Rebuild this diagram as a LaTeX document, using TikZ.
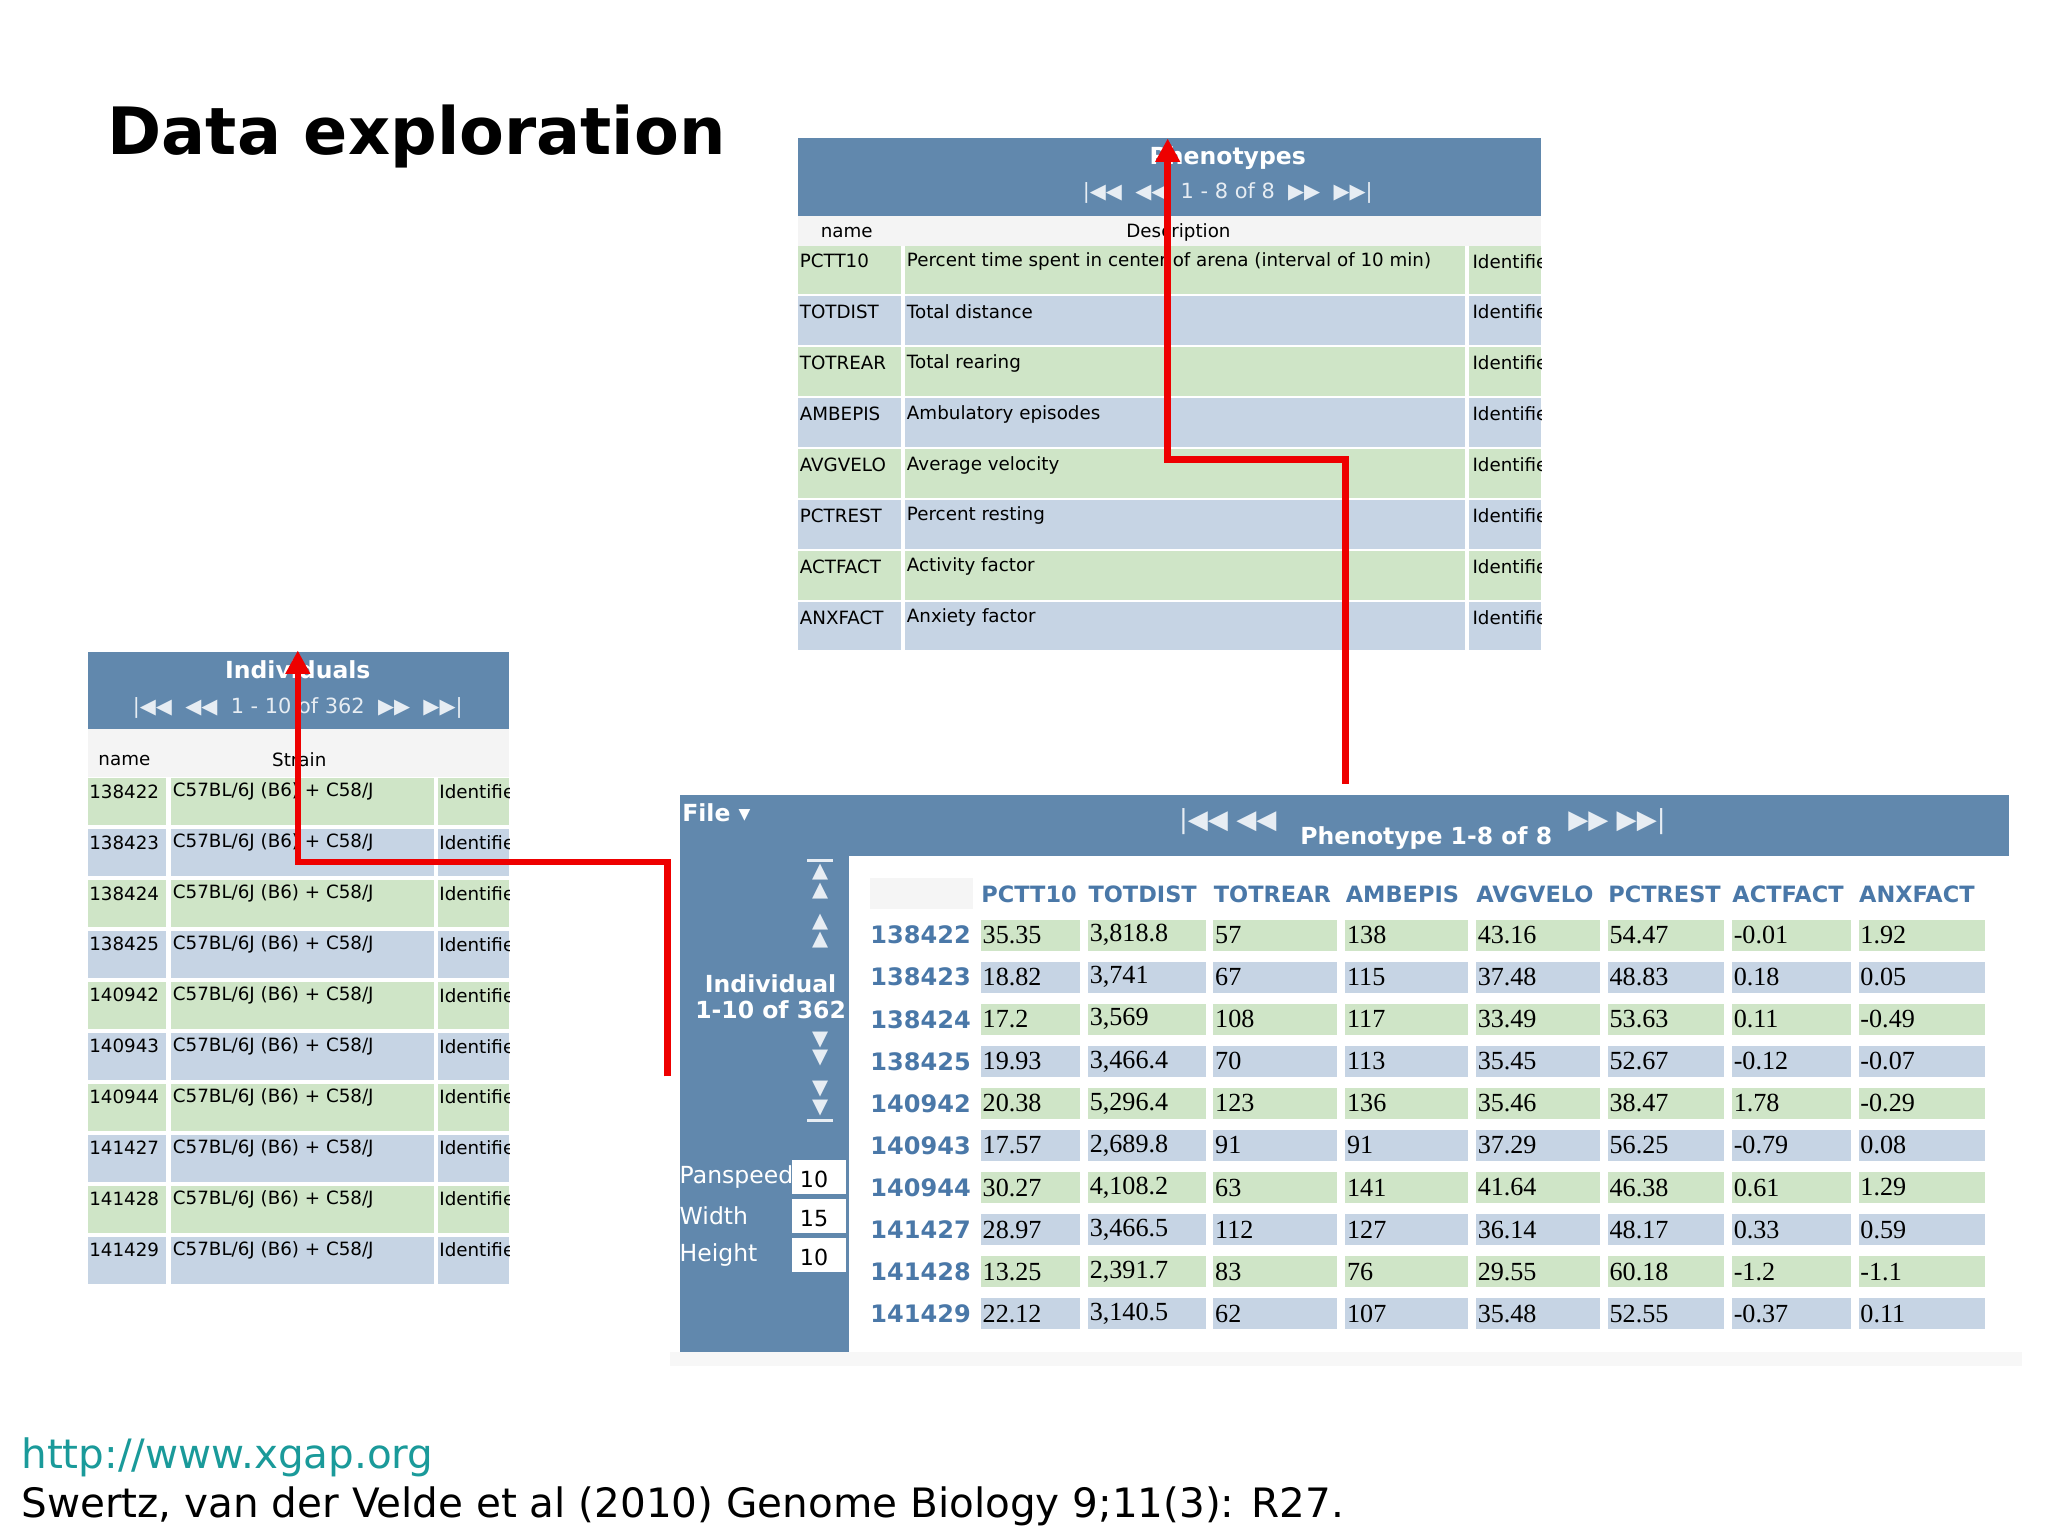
\documentclass[tikz,border=0pt]{standalone}
\usepackage{fontspec}
\setmainfont{DejaVu Sans}
\newfontfamily\serifv{Liberation Serif}
\usetikzlibrary{arrows.meta}
\definecolor{hdr}{HTML}{6188AD}
\definecolor{gr}{HTML}{CFE5C7}
\definecolor{bl}{HTML}{C6D4E4}
\definecolor{idb}{HTML}{4A78A8}
\definecolor{teal}{HTML}{1A9A9A}
\definecolor{redl}{HTML}{EE0000}
\definecolor{chdr}{HTML}{F4F4F4}
\tikzset{
 sm/.style={font=\fontsize{7}{8}\selectfont,inner sep=0,anchor=west},
 nav/.style={font=\fontsize{8}{9}\selectfont,text=white!85!hdr,inner sep=0},
 hd/.style={font=\bfseries\fontsize{9}{10}\selectfont,text=white,inner sep=0},
 val/.style={font=\serifv\fontsize{10}{11}\selectfont,inner sep=0,anchor=west},
 cl/.style={font=\bfseries\fontsize{8.6}{10}\selectfont,text=idb,inner sep=0,anchor=west},
 redarrow/.style={draw=redl,line width=2.5pt,-{Triangle[length=9pt,width=9pt]}},
}
\begin{document}
\begin{tikzpicture}[x=0.5pt,y=-0.5pt]
\useasboundingbox[fill=white] (0,0) rectangle (1568,1176);
\node[anchor=base west,inner sep=0,font=\bfseries\fontsize{25}{30}\selectfont] (title) at (82,118) {Data exploration};
% ---------- Phenotypes panel
\fill[hdr] (611,106) rectangle (1180,165);
\fill[chdr] (611,165) rectangle (1180,188);
\node[hd] (ph) at (940,121) {Phenotypes};
\node[nav] (phn) at (940,148) {|◀◀\ \ ◀◀\ \ 1 - 8 of 8\ \ ▶▶\ \ ▶▶|};
\node[sm] (phc1) at (628,178) {name};
\node[sm] (phc2) at (862,178) {Description};
\foreach \n/\d [count=\i] in {PCTT10/Percent time spent in center of arena (interval of 10 min),TOTDIST/Total distance,TOTREAR/Total rearing,AMBEPIS/Ambulatory episodes,AVGVELO/Average velocity,PCTREST/Percent resting,ACTFACT/Activity factor,ANXFACT/Anxiety factor}{
 \pgfmathsetmacro{\y}{188+(\i-1)*39}
 \pgfmathtruncatemacro{\odd}{mod(\i,2)}
 \ifnum\odd=1 \def\c{gr}\else\def\c{bl}\fi
 \fill[\c] (611,\y) rectangle (690,\y+37);
 \fill[\c] (693,\y) rectangle (1122,\y+37);
 \fill[\c] (1125,\y) rectangle (1180,\y+37);
 \node[sm] (pn\i) at (612,\y+12) {\n};
 \node[sm] (pd\i) at (694,\y+12) {\d};
 \begin{scope}\clip (1125,\y) rectangle (1180,\y+37);
 \node[sm] (pi\i) at (1127,\y+12) {Identifier};\end{scope}
}
% ---------- Individuals panel
\fill[hdr] (67,499) rectangle (390,558);
\fill[chdr] (67,558) rectangle (390,595);
\node[hd] (ih) at (228,513) {Individuals};
\node[nav] (ihn) at (228,542) {|◀◀\ \ ◀◀\ \ 1 - 10 of 362\ \ ▶▶\ \ ▶▶|};
\node[sm] (ic1) at (75,582) {name};
\node[sm] (ic2) at (208,582) {Strain};
\foreach \n [count=\i] in {138422,138423,138424,138425,140942,140943,140944,141427,141428,141429}{
 \pgfmathsetmacro{\y}{596+(\i-1)*39}
 \pgfmathtruncatemacro{\odd}{mod(\i,2)}
 \ifnum\odd=1 \def\c{gr}\else\def\c{bl}\fi
 \fill[\c] (67,\y) rectangle (127,\y+36);
 \fill[\c] (131,\y) rectangle (332,\y+36);
 \fill[\c] (335,\y) rectangle (390,\y+36);
 \node[sm] (in\i) at (68,\y+10) {\n};
 \node[sm] (is\i) at (132,\y+10) {C57BL/6J (B6) + C58/J};
 \begin{scope}\clip (335,\y) rectangle (390,\y+36);
 \node[sm] (ii\i) at (336,\y+10) {Identifier};\end{scope}
}
% ---------- Main panel
\fill[black!3] (513,1035) rectangle (1548,1046);
\fill[hdr] (521,609) rectangle (1538,655);
\fill[hdr] (521,655) rectangle (650,1035);
\node[hd,anchor=west] (file) at (522,622) {File ▾};
\node[nav,font=\fontsize{10}{10}\selectfont] (mn1) at (940,629) {|◀◀\ ◀◀};
\node[nav,font=\fontsize{10}{10}\selectfont] (mn2) at (1238,629) {▶▶\ ▶▶|};
\node[hd] (mh) at (1092,642) {Phenotype 1-8 of 8};
\node[hd,align=center] (ind) at (590,763) {Individual\\1-10 of 362};
\foreach \yy/\s in {668/▲,682/▲,706/▲,720/▲,796/▼,810/▼,834/▼,848/▼}{
 \node[text=white!85!hdr,font=\fontsize{8}{8}\selectfont,inner sep=0] at (628,\yy) {\s};}
\draw[white!85!hdr,line width=1pt] (618,659)--(638,659) (618,858)--(638,858);
\foreach \l/\v/\yy in {Panspeed/10/901,Width/15/931,Height/10/961}{
 \node[font=\fontsize{9}{10}\selectfont,text=white,inner sep=0,anchor=west] at (520,\yy) {\l};
 \fill[white] (606,\yy-13) rectangle (648,\yy+13);
 \node[font=\fontsize{8.5}{9}\selectfont,inner sep=0,anchor=west] at (612,\yy+2) {\v};}
\fill[black!4] (666,672) rectangle (745,696);
\foreach \h/\x in {PCTT10/751,TOTDIST/833,TOTREAR/929,AMBEPIS/1030,AVGVELO/1130,PCTREST/1231,ACTFACT/1326,ANXFACT/1423}{
 \node[cl] at (\x,685) {\h};}
\foreach \id/\a/\b/\c/\d/\e/\f/\g/\h [count=\i] in {
138422/35.35/{3,818.8}/57/138/43.16/54.47/-0.01/1.92,
138423/18.82/{3,741}/67/115/37.48/48.83/0.18/0.05,
138424/17.2/{3,569}/108/117/33.49/53.63/0.11/-0.49,
138425/19.93/{3,466.4}/70/113/35.45/52.67/-0.12/-0.07,
140942/20.38/{5,296.4}/123/136/35.46/38.47/1.78/-0.29,
140943/17.57/{2,689.8}/91/91/37.29/56.25/-0.79/0.08,
140944/30.27/{4,108.2}/63/141/41.64/46.38/0.61/1.29,
141427/28.97/{3,466.5}/112/127/36.14/48.17/0.33/0.59,
141428/13.25/{2,391.7}/83/76/29.55/60.18/-1.2/-1.1,
141429/22.12/{3,140.5}/62/107/35.48/52.55/-0.37/0.11}{
 \pgfmathsetmacro{\y}{716+(\i-1)*32.2}
 \pgfmathtruncatemacro{\odd}{mod(\i,2)}
 \ifnum\odd=1 \def\cc{gr}\else\def\cc{bl}\fi
 \foreach \xa/\xb in {751/827,833/923,929/1024,1030/1124,1130/1225,1231/1320,1326/1417,1423/1520}{
   \fill[\cc] (\xa,\y-12) rectangle (\xb,\y+12);}
 \node[cl,font=\bfseries\fontsize{9.2}{11}\selectfont] (r\i) at (666,\y) {\id};
 \node[val] at (752,\y) {\a};
 \node[val] at (834,\y) {\b};
 \node[val] at (930,\y) {\c};
 \node[val] at (1031,\y) {\d};
 \node[val] at (1131,\y) {\e};
 \node[val] at (1232,\y) {\f};
 \node[val] at (1327,\y) {\g};
 \node[val] at (1424,\y) {\h};
}
% ---------- red arrows
\coordinate (a1) at (511,824);
\coordinate (a1t) at (228,498);
\coordinate (a2) at (1030,600);
\coordinate (a2t) at (894,106);
\draw[redarrow] (a1) |- (300,660) -| (a1t);
\draw[redarrow] (a2) |- (960,352) -| (a2t);
% ---------- footer
\node[anchor=base west,inner sep=0,text=teal,font=\fontsize{15.5}{16}\selectfont] (url) at (16,1124) {http://www.xgap.org};
\node[anchor=base west,inner sep=0,font=\fontsize{15.5}{16}\selectfont] (cite) at (16,1162) {Swertz, van der Velde et al (2010) Genome Biology 9;11(3): R27.};
\end{tikzpicture}
\end{document}
